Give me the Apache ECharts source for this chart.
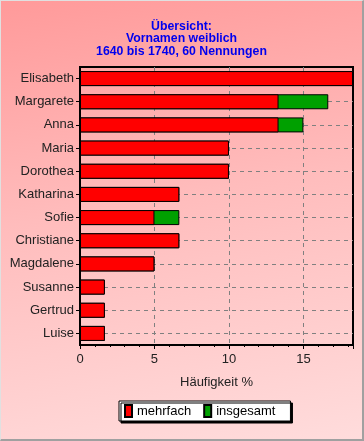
<!DOCTYPE html>
<html><head><meta charset="utf-8">
<script src="https://cdn.jsdelivr.net/npm/echarts@6/dist/echarts.min.js"></script>
<style>
html,body{margin:0;padding:0;}
#c{width:364px;height:441px;box-sizing:border-box;border-right:2px solid #a0a0a0;border-bottom:2px solid #a0a0a0;border-top:1px solid #e0e0e0;border-left:1px solid #e0e0e0;
background:linear-gradient(170deg,#ff9a9a 0%,#ffbcbc 45%,#ffdcdc 100%);}
</style></head>
<body><div id="c"></div>
<script>
var categories = ['Elisabeth','Margarete','Anna','Maria','Dorothea','Katharina','Sofie','Christiane','Magdalene','Susanne','Gertrud','Luise'];
var mehrfach = [18.33,13.33,13.33,10,10,6.67,5,6.67,5,1.67,1.67,1.67];
var insgesamt = [18.33,16.67,15,10,10,6.67,6.67,6.67,5,1.67,1.67,1.67];
var xTicks = [0,5,10,15];

var chart = echarts.init(document.getElementById('c'));
chart.setOption({
  animation:false,
  title:{text:'Übersicht:\nVornamen weiblich\n1640 bis 1740, 60 Nennungen',left:'center',top:14,
    textStyle:{color:'#0000ee',fontFamily:'Liberation Sans',fontWeight:'bold',fontSize:12.3,lineHeight:12.5}},
  grid:{left:79,right:9,top:66,bottom:94,show:true,borderColor:'#000',borderWidth:2,backgroundColor:'transparent'},
  legend:{data:['mehrfach','insgesamt'],left:118,top:400,itemWidth:7,itemHeight:12,itemGap:12,
    padding:[3,15,3,5],backgroundColor:'#fff',borderColor:'#000',borderWidth:1,
    shadowColor:'rgba(0,0,0,1)',shadowOffsetX:2,shadowOffsetY:2,shadowBlur:0,
    icon:'rect',
    textStyle:{fontFamily:'Liberation Sans',fontSize:13,color:'#000'}},
  xAxis:{type:'value',min:0,max:18.33,interval:5,
    name:'Häufigkeit %',nameLocation:'middle',nameGap:31,
    nameTextStyle:{fontFamily:'Liberation Sans',fontSize:13,color:'#222'},
    axisLine:{show:false},
    axisTick:{show:true,length:4,lineStyle:{color:'#000'}},
    minorTick:{show:true,splitNumber:5,length:2,lineStyle:{color:'#000'}},
    axisLabel:{showMaxLabel:false,margin:8,fontFamily:'Liberation Sans',fontSize:13,color:'#222',
      formatter:function(v){return xTicks.indexOf(v)>=0?String(v):'';}},
    splitLine:{show:true,showMinLine:false,showMaxLine:false,lineStyle:{color:'#808080',type:[4,4],width:1}}},
  yAxis:{type:'category',data:categories,inverse:true,
    axisLine:{show:false},
    axisTick:{show:true,alignWithLabel:true,length:4,lineStyle:{color:'#000'}},
    axisLabel:{margin:6,fontFamily:'Liberation Sans',fontSize:13,color:'#222'},
    splitLine:{show:false}},
  series:[
    {type:'bar',name:'grid',data:[],z:1,silent:true,barWidth:15,barGap:'-100%',
      markLine:{z:1,silent:true,symbol:'none',label:{show:false},
        lineStyle:{color:'#808080',type:[4,4],width:1},
        data:categories.map(function(c){return {yAxis:c};})}},
    {type:'bar',name:'insgesamt',data:insgesamt,barWidth:15,barGap:'-100%',z:2,
      itemStyle:{color:'#00a000',borderColor:'#000',borderWidth:1}},
    {type:'bar',name:'mehrfach',data:mehrfach,barWidth:15,barGap:'-100%',z:3,
      itemStyle:{color:'#ff0000',borderColor:'#000',borderWidth:1}}
  ]
});
</script></body></html>
